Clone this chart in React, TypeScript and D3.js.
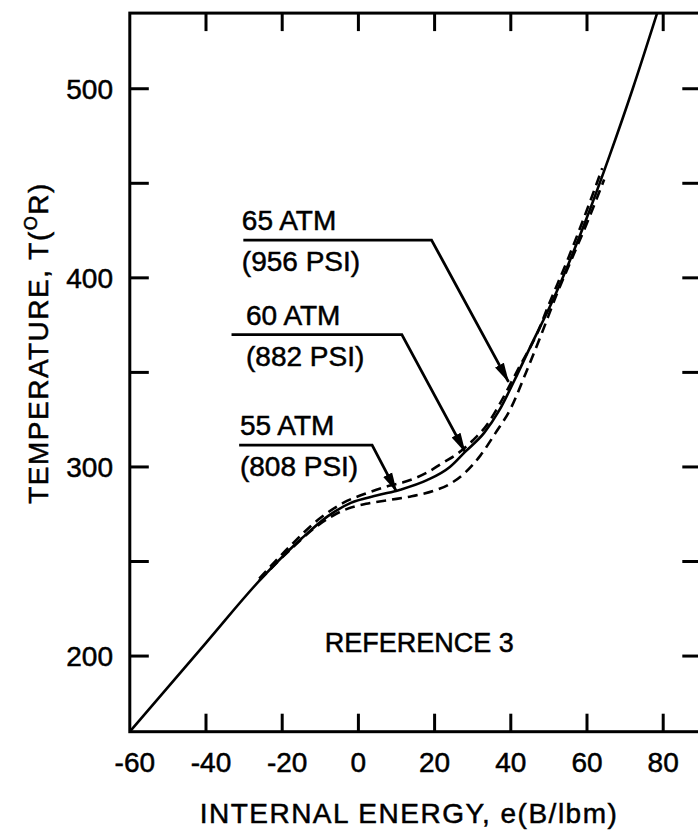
import React from 'react';
import * as d3 from 'd3';

// internal energy (B/lbm) and temperature (deg R)
const e60 = [-60, -40, -25, -15, -8, -2, 5, 11, 18, 24, 28, 33, 37, 41, 45, 51, 60, 66, 72, 78.4];
const t60 = [160, 207, 242, 262, 274, 281, 285, 288, 293, 300, 308, 318, 330, 346, 363, 388, 432, 465, 500, 540];

const e65 = [-26, -18, -10, -4, 2, 8, 12, 18, 22, 26, 30, 34, 37, 42, 47, 50, 55, 60, 64];
const t65 = [241, 258, 273, 281, 286, 290, 292, 297, 302, 307, 314, 323, 333, 352, 371, 386, 410, 436, 458];

const e55 = [-26, -18, -10, -4, 2, 8, 14, 20, 24, 28, 32, 36, 40, 44, 48, 52, 56, 60, 64.5];
const t55 = [240, 256, 270, 277, 280.5, 282.5, 284.5, 287.5, 291, 297, 306, 318, 331, 350, 370, 391, 410, 429, 452];

const xTicks = [-60, -40, -20, 0, 20, 40, 60, 80];
const yMinorTicks = [200, 250, 300, 350, 400, 450, 500];
const yLabels = [200, 300, 400, 500];

// leader labels: text, line start/end (e), line level (T), arrow tip (e, T)
const labelAtm = ['65 ATM', '60 ATM', '55 ATM'];
const labelPsi = ['(956 PSI)', '(882 PSI)', '(808 PSI)'];
const leaderT = [420, 370, 311.5];
const leaderE0 = [-30.2, -33.3, -31.3];
const leaderE1 = [19.2, 11.4, 3.6];
const textE = [-30.6, -29.5, -31.1];
const tipE = [39.4, 28, 10];
const tipT = [345, 308, 287];

const W = 698, H = 836;
const FONT = '"Liberation Sans", Arial, sans-serif';

export default function App() {
  const x = d3.scaleLinear().domain([-60, 90]).range([129.8, 701.3]);
  const y = d3.scaleLinear().domain([160, 540]).range([731.7, 13.1]);

  const line = d3.line<[number, number]>()
    .x(d => x(d[0]))
    .y(d => y(d[1]))
    .curve(d3.curveMonotoneX);

  const pts = (es: number[], ts: number[]) => es.map((e, i) => [e, ts[i]] as [number, number]);

  const x0 = x(-60), x1 = x(90), yTop = y(540), yBot = y(160);

  return (
    <svg width={W} height={H} style={{ position: 'absolute', left: 0, top: 0, background: '#fff' }}
      fontFamily={FONT}>
      <defs>
        <marker id="arr" markerUnits="userSpaceOnUse" markerWidth="20" markerHeight="12"
          viewBox="0 -6 20 12" refX="19" refY="0" orient="auto">
          <path d="M0,-5 L20,0 L0,5 Z" fill="#000" />
        </marker>
      </defs>

      {/* frame */}
      <rect x={x0} y={yTop} width={x1 - x0} height={yBot - yTop} fill="none" stroke="#000" strokeWidth={3} />

      {/* x ticks top and bottom */}
      {xTicks.filter(d => d > -60).map(d => (
        <g key={'xt' + d}>
          <line x1={x(d)} x2={x(d)} y1={yBot} y2={yBot - 18} stroke="#000" strokeWidth={3} />
          <line x1={x(d)} x2={x(d)} y1={yTop} y2={yTop + 18} stroke="#000" strokeWidth={3} />
        </g>
      ))}
      {/* y ticks left and right */}
      {yMinorTicks.map(d => (
        <g key={'yt' + d}>
          <line x1={x0} x2={x0 + 19} y1={y(d)} y2={y(d)} stroke="#000" strokeWidth={3} />
          <line x1={x1} x2={x1 - 19} y1={y(d)} y2={y(d)} stroke="#000" strokeWidth={3} />
        </g>
      ))}

      <g stroke="#000" strokeWidth={0.5}>
        {/* tick labels */}
        {xTicks.map(d => (
          <text key={'xl' + d} x={x(d)} y={772} textAnchor="middle" fontSize={28}
            dx={d < 0 ? 5 : 0}>{d < 0 ? '-' + Math.abs(d) : String(d)}</text>
        ))}
        {yLabels.map(d => (
          <text key={'yl' + d} x={113} y={y(d)} dy="0.36em" textAnchor="end" fontSize={28}>{d}</text>
        ))}

        {/* axis titles */}
        <text x={409} y={823} textAnchor="middle" fontSize={28} letterSpacing={1.5}>
          INTERNAL ENERGY, e(B/lbm)
        </text>
        <text transform="translate(48,343) rotate(-90)" textAnchor="middle" fontSize={28} letterSpacing={1.5}>
          TEMPERATURE, T(<tspan fontSize={18} dy={-11}>O</tspan><tspan dy={11}>R)</tspan>
        </text>

        {labelAtm.map((lab, i) => (
          <g key={'t' + lab}>
            <text x={x(textE[i])} y={y(leaderT[i]) - 10} fontSize={28}>{lab}</text>
            <text x={x(textE[i])} y={y(leaderT[i]) + 31} fontSize={28}>{labelPsi[i]}</text>
          </g>
        ))}

        <text x={x(40.8)} y={y(202.3)} textAnchor="end" fontSize={27}>REFERENCE 3</text>
      </g>

      {/* curves */}
      <path d={line(pts(e60, t60)) || ''} fill="none" stroke="#000" strokeWidth={2.6} />
      <path d={line(pts(e65, t65)) || ''} fill="none" stroke="#000" strokeWidth={2.6} strokeDasharray="10,6" />
      <path d={line(pts(e55, t55)) || ''} fill="none" stroke="#000" strokeWidth={2.6} strokeDasharray="10,6" />

      {/* leader arrows */}
      {labelAtm.map((lab, i) => (
        <polyline key={'a' + lab}
          points={`${x(leaderE0[i])},${y(leaderT[i])} ${x(leaderE1[i])},${y(leaderT[i])} ${x(tipE[i])},${y(tipT[i])}`}
          fill="none" stroke="#000" strokeWidth={2.8} markerEnd="url(#arr)" />
      ))}
    </svg>
  );
}
